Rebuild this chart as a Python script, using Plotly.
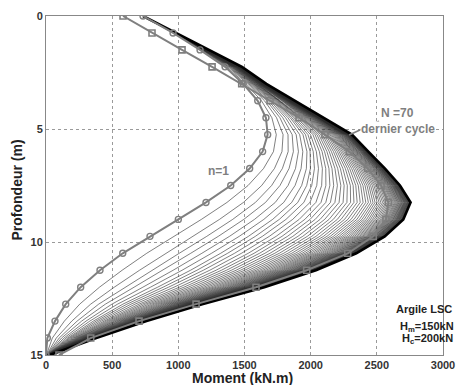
import plotly.graph_objects as go

# Depth grid (m)
depth = [0, 0.75, 1.5, 2.25, 3.0, 3.75, 4.5, 5.25, 6.0, 6.75, 7.5,
         8.25, 9.0, 9.75, 10.5, 11.25, 12.0, 12.75, 13.5, 14.25, 15.0]

# First cycle n=1 (kN.m)
m_n1 = [733, 960, 1164, 1353, 1490, 1600, 1662, 1675, 1637, 1539, 1396,
        1209, 1000, 786, 580, 408, 262, 149, 68, 10, 0]

# Last cycle N=70 (black envelope)
m_n70 = [733, 985, 1232, 1481, 1665, 1879, 2099, 2312, 2436, 2562, 2675,
         2755, 2700, 2560, 2345, 2040, 1650, 1180, 760, 380, 30]

# Gray curve with square markers
m_sq = [582, 801, 1028, 1255, 1479, 1693, 1912, 2108, 2292, 2431, 2532,
        2587, 2569, 2473, 2280, 1970, 1587, 1134, 703, 338, 98]

# Moment of each intermediate cycle (2..69) read at depth 7.5 m
m_cycles_at_7_5 = [1527, 1630, 1705, 1768, 1829, 1882, 1932, 1970, 2008, 2046, 2083,
                   2115, 2145, 2174, 2202, 2228, 2253, 2277, 2300, 2321, 2341,
                   2360, 2378, 2395, 2411, 2426, 2440, 2453, 2466, 2478, 2489,
                   2500, 2510, 2520, 2529, 2538, 2546, 2554, 2561, 2568, 2575,
                   2581, 2587, 2593, 2598, 2603, 2608, 2613, 2617, 2621, 2625,
                   2629, 2633, 2636, 2639, 2642, 2645, 2648, 2651, 2654, 2656,
                   2659, 2661, 2664, 2666, 2668, 2670, 2672]

x_ticks = [0, 500, 1000, 1500, 2000, 2500, 3000]
y_ticks = [0, 5, 10, 15]

ref = depth.index(7.5)
xs, ys = [], []
for p in m_cycles_at_7_5:
    w = (p - m_n1[ref]) / (m_n70[ref] - m_n1[ref])
    xs += [a + w * (b - a) for a, b in zip(m_n1, m_n70)] + [None]
    ys += depth + [None]

gray = "#7f7f7f"
fig = go.Figure()
fig.add_trace(go.Scatter(x=xs, y=ys, mode="lines",
                         line=dict(color="#2a2a2a", width=0.6), hoverinfo="skip"))
fig.add_trace(go.Scatter(x=m_n70, y=depth, mode="lines",
                         line=dict(color="black", width=2.6)))
fig.add_trace(go.Scatter(x=m_sq, y=depth, mode="lines+markers",
                         line=dict(color=gray, width=2),
                         marker=dict(symbol="square-open", size=6, color=gray,
                                     line=dict(width=1.6, color=gray))))
fig.add_trace(go.Scatter(x=m_n1, y=depth, mode="lines+markers",
                         line=dict(color=gray, width=2),
                         marker=dict(symbol="circle-open", size=6, color=gray,
                                     line=dict(width=1.4, color=gray))))

tickfont = dict(family="Liberation Sans, Arial", size=11, color="#333", weight="bold")
axcommon = dict(showgrid=True, gridcolor="#9a9a9a", griddash="dot", gridwidth=1,
                zeroline=False, showline=True, linecolor="#888", linewidth=1,
                mirror=True, tickfont=tickfont, ticks="", automargin=False)
fig.update_layout(
    width=456, height=385,
    margin=dict(l=46, r=13, t=16, b=30),
    plot_bgcolor="white", paper_bgcolor="white",
    showlegend=False,
    xaxis=dict(range=[0, 3000], tickvals=x_ticks, **axcommon),
    yaxis=dict(range=[15, 0], tickvals=y_ticks, **axcommon),
)

tfont = dict(family="Liberation Sans, Arial", size=14, color="#222", weight="bold")
fig.add_annotation(xref="paper", yref="paper", x=0.495, y=-0.068, text="Moment (kN.m)",
                   showarrow=False, font=tfont, xanchor="center", yanchor="middle")
fig.add_annotation(xref="paper", yref="paper", x=-0.074, y=0.487, text="Profondeur (m)",
                   showarrow=False, font=tfont, textangle=-90,
                   xanchor="center", yanchor="middle")

afont = dict(family="Liberation Sans, Arial", size=12, color=gray, weight="bold")
fig.add_annotation(x=1300, y=6.85, text="n=1", showarrow=False, font=afont)
fig.add_annotation(x=2290, y=5.27, text="N =70", showarrow=True, arrowhead=0,
                   arrowwidth=1.6, arrowcolor=gray, ax=48, ay=-22, font=afont)
fig.add_annotation(x=2660, y=5.0, text="dernier cycle", showarrow=False,
                   font=afont, bgcolor="white", borderpad=0)

bfont = dict(family="Liberation Sans, Arial", size=11, color="#222", weight="bold")
fig.add_annotation(x=2860, y=12.95, text="Argile LSC", showarrow=False, font=bfont)
fig.add_annotation(x=2880, y=13.75, text="H<sub>m</sub>=150kN", showarrow=False, font=bfont)
fig.add_annotation(x=2880, y=14.3, text="H<sub>c</sub>=200kN", showarrow=False, font=bfont)

fig.write_html("out.html")
